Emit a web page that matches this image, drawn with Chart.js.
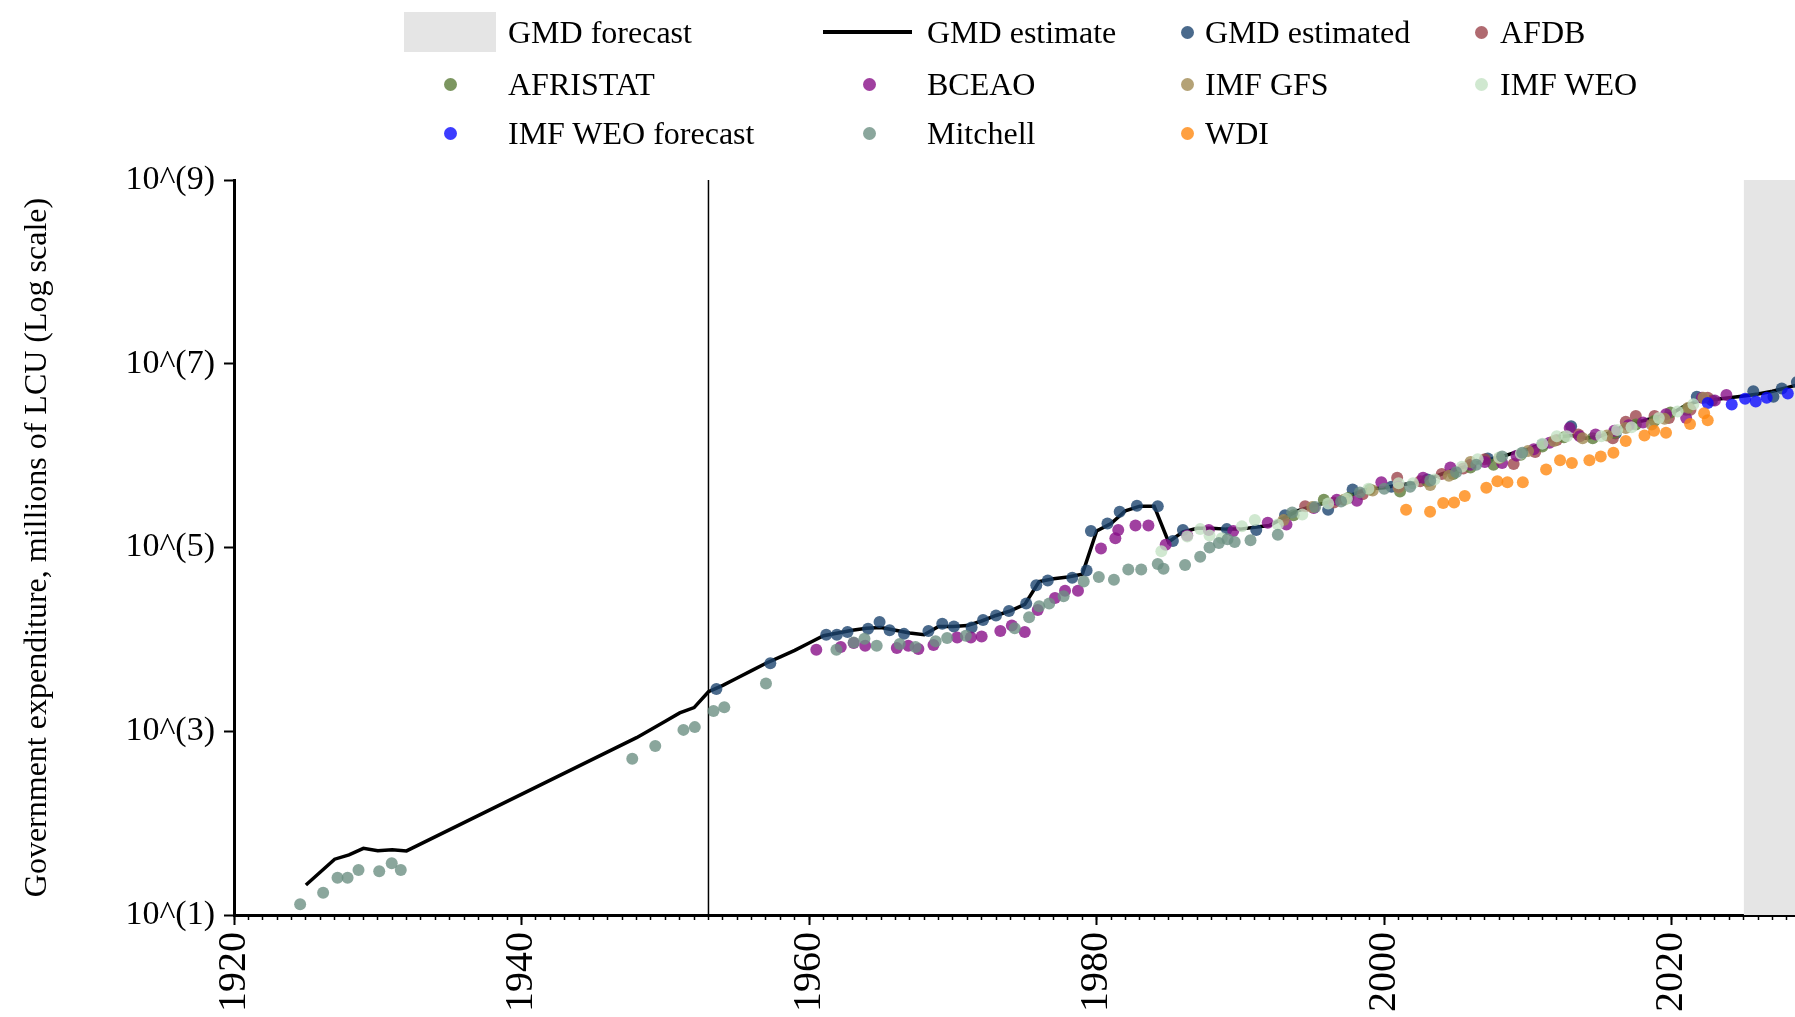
<!DOCTYPE html>
<html>
<head>
<meta charset="utf-8">
<script src="https://cdn.jsdelivr.net/npm/chart.js@4.4.0/dist/chart.umd.min.js"></script>
<style>
  html, body { margin: 0; padding: 0; background: #fff; }
  #wrap { position: relative; width: 1795px; height: 1017px; overflow: hidden; }
  #chart { position: absolute; left: 0; top: 0; }
  .lg-text { position: absolute; font-family: 'Liberation Serif', 'Times New Roman', serif; font-size: 32px; color: #000; line-height: 40px; height: 40px; white-space: nowrap; }
  .lg-dot { position: absolute; width: 13px; height: 13px; border-radius: 50%; }
</style>
</head>
<body>
<div id="wrap">
  <canvas id="chart" width="1795" height="1017"></canvas>
  <div id="legend"></div>
</div>
<script>
// ========== DATA (millions of LCU) ==========
const lineYears = [1925, 1927, 1928, 1929, 1930, 1931, 1932, 1948, 1949, 1950, 1951, 1952, 1953, 1954, 1955, 1956, 1957, 1958, 1959, 1960,
  1961, 1962, 1963, 1964, 1965, 1966, 1967, 1968, 1969, 1970, 1971, 1972, 1973, 1974, 1975, 1976, 1977, 1978, 1979, 1980,
  1981, 1982, 1983, 1984, 1985, 1986, 1987, 1988, 1989, 1990, 1991, 1992, 1993, 1994, 1995, 1996, 1997, 1998, 1999, 2000,
  2001, 2002, 2003, 2004, 2005, 2006, 2007, 2008, 2009, 2010, 2011, 2012, 2013, 2014, 2015, 2016, 2017, 2018, 2019, 2020,
  2021, 2022, 2023, 2024, 2025, 2026, 2027, 2028, 2029];
const lineValues = [21.2, 40.5, 45.1, 53.2, 50.1, 51.4, 49.8, 851, 1047, 1288, 1585, 1811, 2692, 3162, 3802, 4571, 5495, 6457, 7586, 9120,
  10960, 11750, 12590, 13180, 13490, 12590, 11750, 11220, 13800, 13800, 14130, 15850, 18200, 20420, 23990, 42660, 45710, 47860, 51290, 151400,
  182000, 251200, 281800, 281800, 114800, 147900, 162200, 162200, 158500, 158500, 166000, 173800, 208900, 251200, 281800, 309000, 338800, 389000, 436500, 446700,
  478600, 501200, 549500, 631000, 707900, 794300, 891300, 955000, 1072000, 1175000, 1349000, 1585000, 1660000, 1549000, 1622000, 1862000, 2239000, 2399000, 2630000, 2884000,
  3548000, 3981000, 4074000, 4266000, 4467000, 4677000, 5012000, 5495000, 6026000];

const gmdYears = [1953.55, 1957.3, 1961.19, 1961.93, 1962.67, 1964.1, 1964.9, 1965.6, 1966.6, 1968.3, 1969.26, 1970.07, 1971.3, 1972.1, 1973.0,
  1973.9, 1975.1, 1975.8, 1976.6, 1978.3, 1979.3, 1979.6, 1980.75, 1981.6, 1982.8, 1984.25, 1985.3, 1986.0, 1989.05, 1991.1,
  1993.1, 1996.1, 1997.8, 2000.5, 2003.0, 2007.2, 2011.0, 2013.0, 2016.1, 2021.74, 2022.8, 2025.67, 2027.07, 2027.65, 2028.7];
const gmdValues = [2884, 5495, 11220, 11220, 12020, 13030, 15490, 12590, 11480, 12300, 14790, 13800, 13490, 16220, 18200,
  20420, 24550, 38900, 43650, 46770, 56230, 151400, 182000, 245500, 285100, 281800, 117500, 154900, 158500, 154900,
  223900, 257000, 426600, 457100, 549500, 933300, 1318000, 2089000, 1738000, 4365000, 3981000, 5012000, 4365000, 5370000, 6310000];

const afdbYears = [1994.5, 1996.5, 1998.5, 2000.9, 2002.5, 2004.0, 2005.5, 2007.0, 2009.0, 2010.5, 2012.0, 2013.5, 2015.9, 2016.8, 2017.5, 2018.8, 2019.8, 2021.3, 2022.5];
const afdbValues = [281800, 309000, 380200, 575400, 524800, 631000, 724400, 912000, 812800, 1096000, 1479000, 1698000, 1549000, 2344000, 2692000, 2692000, 2570000, 3162000, 4266000];

const afristatYears = [1993.7, 1995.8, 1997.5, 1999.0, 2001.1, 2003.0, 2004.8, 2006.0, 2007.6, 2009.5, 2011.0, 2012.5, 2014.5, 2016.0, 2017.5, 2018.8, 2019.9, 2021.0];
const afristatValues = [223900, 331100, 346700, 426600, 407400, 524800, 631000, 741300, 794300, 1023000, 1259000, 1585000, 1549000, 1778000, 2188000, 2399000, 2951000, 3162000];

const bceaoYears = [1960.5, 1962.2, 1963.1, 1963.9, 1966.1, 1966.9, 1967.6, 1968.65, 1970.3, 1971.25, 1972.0, 1973.3, 1974.1, 1975.0, 1975.9, 1977.1, 1977.8, 1978.7,
  1980.3, 1981.3, 1981.5, 1982.7, 1983.6, 1984.8, 1986.3, 1987.8, 1989.5, 1991.9, 1993.2, 1995.1, 1996.7, 1998.1, 1999.8, 2001.0, 2002.7, 2004.6,
  2006.0, 2007.0, 2008.2, 2009.2, 2010.4, 2011.5, 2012.9, 2013.6, 2014.7, 2016.0, 2017.0, 2018.0, 2019.6, 2021.0, 2022.1, 2023.0, 2023.8];
const bceaoValues = [7710, 8240, 9120, 8511, 8035, 8511, 7834, 8710, 10470, 10470, 10720, 12300, 14130, 12020, 20890, 28180, 33880, 33880,
  97720, 125900, 154900, 173800, 173800, 107200, 134900, 154900, 151400, 186200, 177800, 269200, 331100, 323600, 512900, 457100, 575400, 741300,
  794300, 851100, 831800, 1000000, 1175000, 1380000, 1995000, 1622000, 1698000, 1862000, 2138000, 2291000, 2818000, 2570000, 4266000, 3981000, 4571000];

const gfsYears = [1993.0, 1995.0, 1997.2, 1999.2, 2001.0, 2003.2, 2004.5, 2006.0, 2008.0, 2010.0, 2011.8, 2013.8, 2015.5, 2016.8, 2018.6, 2019.5, 2021.15, 2022.2];
const gfsValues = [199500, 275400, 331100, 416900, 446700, 478600, 602600, 851100, 933300, 1122000, 1445000, 1549000, 1660000, 1995000, 2188000, 2512000, 3311000, 4266000];

const weoYears = [1984.5, 1986.3, 1987.2, 1987.85, 1988.7, 1990.1, 1991.0, 1992.6, 1994.3, 1996.1, 1997.4, 1998.9, 2001.0, 2002.0,
  2003.5, 2005.4, 2006.5, 2008.0, 2009.5, 2011.0, 2012.0, 2012.7, 2015.1, 2016.2, 2017.2, 2019.1, 2020.4, 2021.5];
const weoValues = [91200, 131800, 158500, 134900, 125900, 169800, 199500, 177800, 229100, 302000, 338800, 436500, 501200, 501200,
  549500, 758600, 912000, 955000, 1047000, 1349000, 1622000, 1622000, 1622000, 1905000, 2042000, 2570000, 3020000, 3631000];

const weoForecastYears = [2022.5, 2024.17, 2025.1, 2025.84, 2026.6, 2028.07];
const weoForecastValues = [3750000, 3597000, 4150000, 3890000, 4266000, 4732000];

const mitchellYears = [1924.6, 1926.2, 1927.2, 1927.9, 1928.66, 1930.1, 1930.97, 1931.6, 1947.7, 1949.3, 1951.26, 1952.05, 1953.35, 1954.1, 1957.0,
  1961.9, 1963.1, 1963.85, 1964.7, 1966.3, 1967.4, 1968.8, 1969.6, 1970.9, 1974.3, 1975.3, 1976.0, 1976.7, 1977.7, 1979.1, 1980.15, 1981.2, 1982.2, 1983.1,
  1984.25, 1984.65, 1986.15, 1987.2, 1987.85, 1988.5, 1989.1, 1989.6, 1990.7, 1992.6, 1993.6, 1995.2, 1997.0, 1998.3, 2000.0, 2001.8, 2003.2, 2005.0, 2006.4, 2008.2, 2009.6];
const mitchellValues = [13.1, 17.5, 25.5, 25.5, 30.9, 29.9, 36.6, 30.9, 501, 692, 1035, 1109, 1660, 1820, 3311,
  7710, 9250, 10160, 8511, 8913, 8240, 9550, 10330, 10960, 13180, 17380, 22910, 24550, 29510, 42660, 47860, 44670, 57540, 57540,
  66070, 58880, 64570, 79430, 100000, 112200, 123000, 114800, 120200, 138000, 239900, 275400, 316200, 398100, 436500, 457100, 537000, 660700, 794300, 977200, 1072000];

const wdiYears = [2001.52, 2003.19, 2004.1, 2004.86, 2005.6, 2007.1, 2007.87, 2008.57, 2009.64, 2011.26, 2012.23, 2013.05, 2014.27, 2015.06, 2015.94, 2016.8, 2018.1, 2018.77, 2019.6, 2021.27, 2022.25, 2022.5];
const wdiValues = [257000, 245500, 305500, 309000, 363100, 446700, 524800, 512900, 512900, 707900, 891300, 831800, 891300, 977200, 1072000, 1445000, 1660000, 1862000, 1778000, 2213000, 2884000, 2427000];

const forecastYears = [2025, 2030];          // GMD forecast shading
const forecastTop = [1e9, 1e9];
const markerYears = [1953, 1953];            // vertical reference line
const markerValues = [10, 1e9];

const xTicks = [1920, 1940, 1960, 1980, 2000, 2020];
const yTicks = [1e1, 1e3, 1e5, 1e7, 1e9];

// ========== STYLE ==========
const colors = {
  gmd: 'rgba(29,69,111,0.8)',
  afdb: 'rgba(156,69,76,0.8)',
  afristat: 'rgba(91,124,56,0.8)',
  bceao: 'rgba(136,16,136,0.8)',
  gfs: 'rgba(161,139,84,0.8)',
  weo: 'rgba(196,226,196,0.8)',
  weoForecast: 'rgba(11,11,255,0.8)',
  mitchell: 'rgba(109,144,131,0.8)',
  wdi: 'rgba(255,136,16,0.8)'
};

function pts(xs, ys) {
  return xs.map((x, i) => ({ x: x, y: ys[i] }));
}

function scatterSet(label, xs, ys, color, order) {
  return {
    type: 'scatter', label: label, data: pts(xs, ys),
    backgroundColor: color, borderColor: 'rgba(0,0,0,0)', borderWidth: 0,
    pointRadius: 6, pointHoverRadius: 6, order: order
  };
}

// keep the x scale flush with the canvas edges
function noSidePadding(s) {
  s.paddingLeft = 0;
  s.paddingRight = 0;
}

const minorTicks = [];
for (let yr = 1920; yr <= 2028; yr++) minorTicks.push(yr);

Chart.defaults.font.family = "'Liberation Serif', 'Times New Roman', serif";
Chart.defaults.color = '#000';

new Chart(document.getElementById('chart'), {
  type: 'scatter',
  data: {
    datasets: [
      scatterSet('WDI', wdiYears, wdiValues, colors.wdi, 1),
      scatterSet('Mitchell', mitchellYears, mitchellValues, colors.mitchell, 2),
      scatterSet('IMF WEO forecast', weoForecastYears, weoForecastValues, colors.weoForecast, 3),
      scatterSet('IMF WEO', weoYears, weoValues, colors.weo, 4),
      scatterSet('IMF GFS', gfsYears, gfsValues, colors.gfs, 5),
      scatterSet('BCEAO', bceaoYears, bceaoValues, colors.bceao, 6),
      scatterSet('AFRISTAT', afristatYears, afristatValues, colors.afristat, 7),
      scatterSet('AFDB', afdbYears, afdbValues, colors.afdb, 8),
      scatterSet('GMD estimated', gmdYears, gmdValues, colors.gmd, 9),
      {
        type: 'line', label: 'GMD estimate', data: pts(lineYears, lineValues),
        borderColor: '#000', borderWidth: 3.5, pointRadius: 0, tension: 0, fill: false, order: 10
      },
      {
        type: 'line', label: '1953', data: pts(markerYears, markerValues),
        borderColor: '#000', borderWidth: 1.5, pointRadius: 0, fill: false, order: 11
      },
      {
        type: 'line', label: 'GMD forecast', data: pts(forecastYears, forecastTop),
        borderColor: 'rgba(0,0,0,0)', borderWidth: 0, backgroundColor: '#e5e5e5',
        pointRadius: 0, fill: 'start', order: 12
      }
    ]
  },
  options: {
    responsive: false,
    animation: false,
    devicePixelRatio: 1,
    layout: { autoPadding: false, padding: { top: 180, left: 0, right: 0, bottom: 0 } },
    plugins: { legend: { display: false }, tooltip: { enabled: false } },
    scales: {
      x: {
        type: 'linear', position: 'bottom', min: 1920, max: 2028.57,
        afterBuildTicks: (s) => { s.ticks = xTicks.map(v => ({ value: v })); },
        afterFit: (s) => { s.height = 102; noSidePadding(s); },
        grid: { drawOnChartArea: false, drawTicks: true, tickLength: 10, tickWidth: 2, tickColor: '#000' },
        border: { display: true, color: '#000', width: 3 },
        ticks: { autoSkip: false, maxRotation: 90, minRotation: 90, padding: 7, font: { size: 40 }, color: '#000', callback: (v) => String(v) }
      },
      xMinor: {
        type: 'linear', position: { y: 10 }, min: 1920, max: 2028.57,
        afterBuildTicks: (s) => { s.ticks = minorTicks.map(v => ({ value: v })); },
        afterFit: noSidePadding,
        grid: { drawOnChartArea: false, drawTicks: true, tickLength: 5, tickWidth: 1.5, tickColor: '#000' },
        border: { display: false },
        ticks: { display: false, autoSkip: false }
      },
      y: {
        type: 'logarithmic', min: 10, max: 1e9,
        afterBuildTicks: (s) => { s.ticks = yTicks.map(v => ({ value: v })); },
        afterFit: (s) => { s.width = 234; },
        title: {
          display: true, text: 'Government expenditure, millions of LCU (Log scale)',
          font: { size: 32 }, color: '#000', padding: { top: 18, bottom: 0 }
        },
        grid: { drawOnChartArea: false, drawTicks: true, tickLength: 10, tickWidth: 2, tickColor: '#000' },
        border: { display: true, color: '#000', width: 3 },
        ticks: { font: { size: 34 }, padding: 9, color: '#000', autoSkip: false,
          callback: (v) => '10^(' + Math.round(Math.log10(v)) + ')' }
      }
    }
  }
});

// ========== LEGEND ==========
const legendEntries = [
  { label: 'GMD forecast', kind: 'box', row: 0, col: 0 },
  { label: 'GMD estimate', kind: 'line', row: 0, col: 1 },
  { label: 'GMD estimated', kind: 'dot', color: colors.gmd, row: 0, col: 2 },
  { label: 'AFDB', kind: 'dot', color: colors.afdb, row: 0, col: 3 },
  { label: 'AFRISTAT', kind: 'dot', color: colors.afristat, row: 1, col: 0 },
  { label: 'BCEAO', kind: 'dot', color: colors.bceao, row: 1, col: 1 },
  { label: 'IMF GFS', kind: 'dot', color: colors.gfs, row: 1, col: 2 },
  { label: 'IMF WEO', kind: 'dot', color: colors.weo, row: 1, col: 3 },
  { label: 'IMF WEO forecast', kind: 'dot', color: colors.weoForecast, row: 2, col: 0 },
  { label: 'Mitchell', kind: 'dot', color: colors.mitchell, row: 2, col: 1 },
  { label: 'WDI', kind: 'dot', color: colors.wdi, row: 2, col: 2 }
];
const rowY = [32, 84, 133];
const dotX = [450, 869, 1187, 1481];
const textX = [508, 927, 1205, 1500];

const legend = document.getElementById('legend');
legendEntries.forEach(e => {
  const cy = rowY[e.row];
  if (e.kind === 'box') {
    const b = document.createElement('div');
    b.style.cssText = `position:absolute;left:404px;top:${cy - 20}px;width:92px;height:40px;background:#e5e5e5;`;
    legend.appendChild(b);
  } else if (e.kind === 'line') {
    const l = document.createElement('div');
    l.style.cssText = `position:absolute;left:823px;top:${cy - 2}px;width:89px;height:4px;background:#000;`;
    legend.appendChild(l);
  } else {
    const d = document.createElement('div');
    d.className = 'lg-dot';
    d.style.left = (dotX[e.col] - 6.5) + 'px';
    d.style.top = (cy - 6.5) + 'px';
    d.style.background = e.color;
    legend.appendChild(d);
  }
  const t = document.createElement('div');
  t.className = 'lg-text';
  t.style.left = textX[e.col] + 'px';
  t.style.top = (cy - 20) + 'px';
  t.textContent = e.label;
  legend.appendChild(t);
});
</script>
</body>
</html>
